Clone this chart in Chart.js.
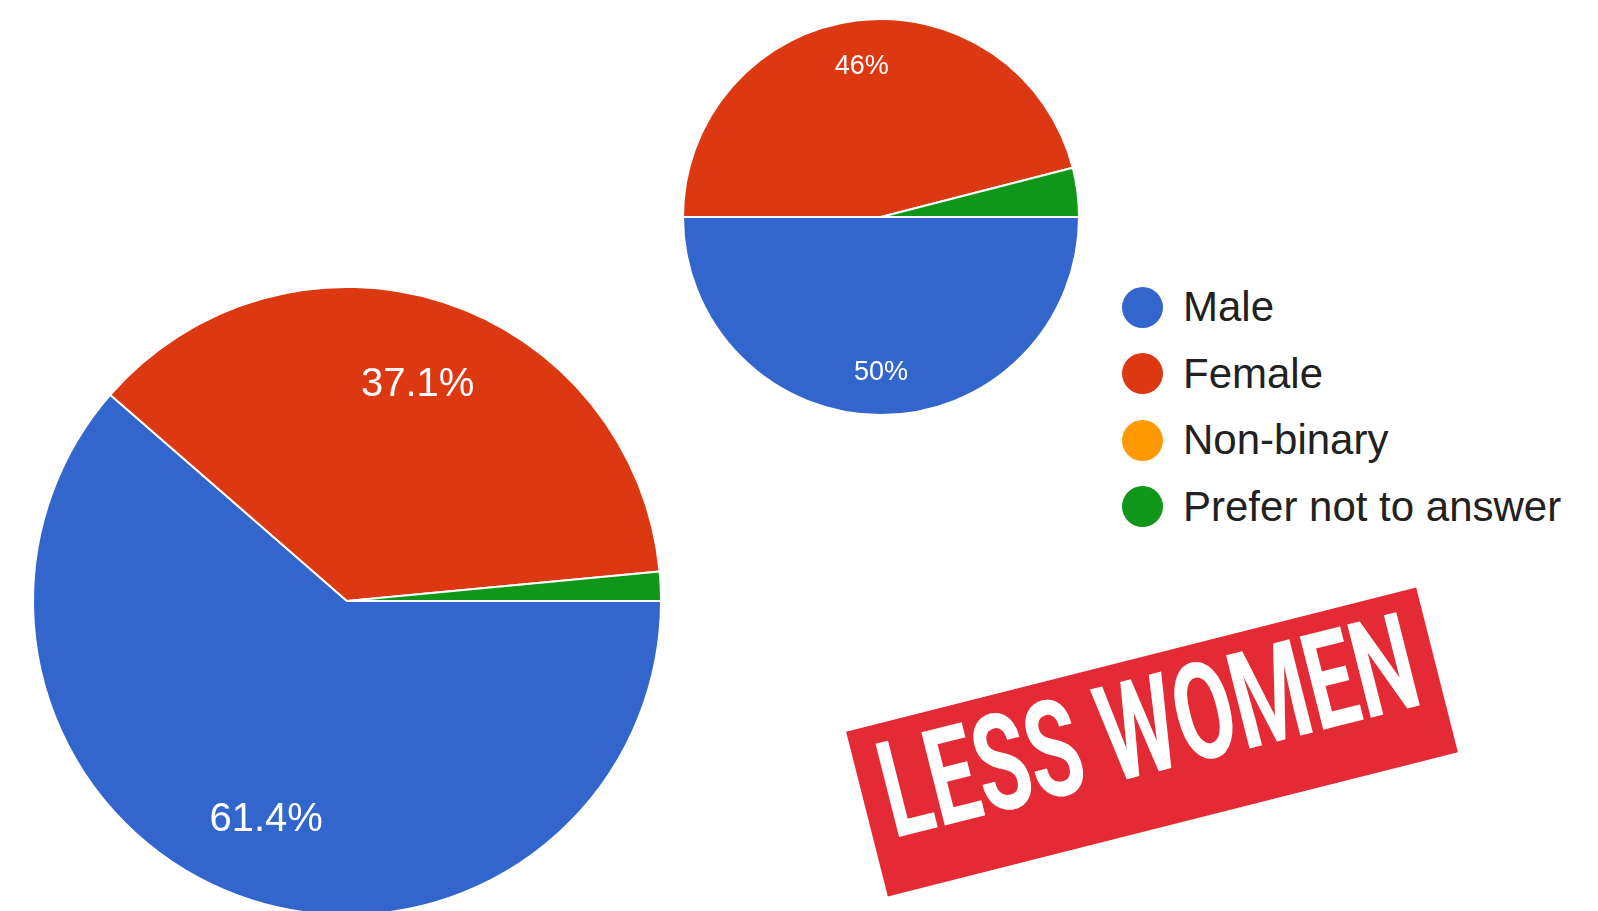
<!DOCTYPE html>
<html>
<head>
<meta charset="utf-8">
<script src="https://cdn.jsdelivr.net/npm/chart.js@4.4.1/dist/chart.umd.min.js"></script>
<style>
  html, body { margin: 0; padding: 0; background: #fff; overflow: hidden; width: 1598px; height: 911px; }
  canvas { position: absolute; }
  #bigPie { left: 17px; top: 271px; }
  #smallPie { left: 671px; top: 7px; }
  #legend { position: absolute; left: 1122px; top: 274px; font-family: "Liberation Sans", Arial, sans-serif; font-size: 42px; color: #212121; }
  .row { height: 66.5px; display: flex; align-items: center; }
  .dot { width: 41px; height: 41px; border-radius: 50%; margin-right: 20px; flex: none; }
  #stamp { position: absolute; width: 588px; height: 170px; left: 858px; top: 657px; background: #e32a35; transform: rotate(-14.2deg); }
  #stampText { position: absolute; left: 20px; top: 2px; color: #fff; white-space: nowrap; font-family: Roboto, "DejaVu Sans Condensed", sans-serif; font-weight: bold; font-size: 135px; line-height: 1; transform-origin: 0 0; }
</style>
</head>
<body>
<canvas id="bigPie" width="660" height="660"></canvas>
<canvas id="smallPie" width="420" height="420"></canvas>
<div id="legend"></div>
<div id="stamp"><span id="stampText">LESS WOMEN</span></div>
<script>
// categories and colours
var labels = ['Male', 'Female', 'Non-binary', 'Prefer not to answer'];
var colors = ['#3366cc', '#dc3912', '#ff9900', '#109618'];

// percentages
var bigValues = [61.4, 37.1, 0, 1.5];
var smallValues = [50, 46, 0, 4];

// draws the % text inside the big slices
var sliceLabels = {
  id: 'sliceLabels',
  afterDatasetsDraw: function(chart, args, opts) {
    var ctx = chart.ctx;
    var data = chart.data.datasets[0].data;
    var arcs = chart.getDatasetMeta(0).data;
    ctx.save();
    ctx.fillStyle = '#fff';
    ctx.font = opts.size + 'px "Liberation Sans", Arial, sans-serif';
    ctx.textAlign = 'center';
    ctx.textBaseline = 'alphabetic';
    arcs.forEach(function(arc, i) {
      if (data[i] < 5) return;
      var p = arc.getProps(['x', 'y', 'startAngle', 'endAngle', 'outerRadius'], true);
      var mid = (p.startAngle + p.endAngle) / 2;
      var r = p.outerRadius * opts.frac;
      // baseline set so the digits sit centred on the point
      ctx.fillText(Number(data[i].toFixed(1)) + '%', p.x + Math.cos(mid) * r, p.y + Math.sin(mid) * r + opts.size * 0.358);
    });
    ctx.restore();
  }
};

function makePie(id, values, radius, size, frac) {
  var c = document.getElementById(id).getContext('2d');
  return new Chart(c, {
    type: 'pie',
    data: {
      labels: labels,
      datasets: [{
        data: values,
        backgroundColor: colors,
        borderColor: '#ffffff',
        borderWidth: 2
      }]
    },
    options: {
      responsive: false,
      animation: false,
      devicePixelRatio: 1,
      rotation: 90,
      radius: radius,
      layout: { padding: 0 },
      plugins: {
        legend: { display: false },
        tooltip: { enabled: false },
        sliceLabels: { size: size, frac: frac }
      }
    },
    plugins: [sliceLabels]
  });
}

makePie('bigPie', bigValues, 314, 40, 0.735);
makePie('smallPie', smallValues, 198, 27, 0.775);

// legend shared by both pies
var lg = document.getElementById('legend');
labels.forEach(function(l, i) {
  var row = document.createElement('div');
  row.className = 'row';
  row.innerHTML = '<span class="dot" style="background:' + colors[i] + '"></span><span>' + l + '</span>';
  lg.appendChild(row);
});

// squeeze the stamp text to the narrow look
var st = document.getElementById('stampText');
var w = st.offsetWidth;
st.style.transform = 'scaleX(' + (548 / w) + ')';
</script>
</body>
</html>
